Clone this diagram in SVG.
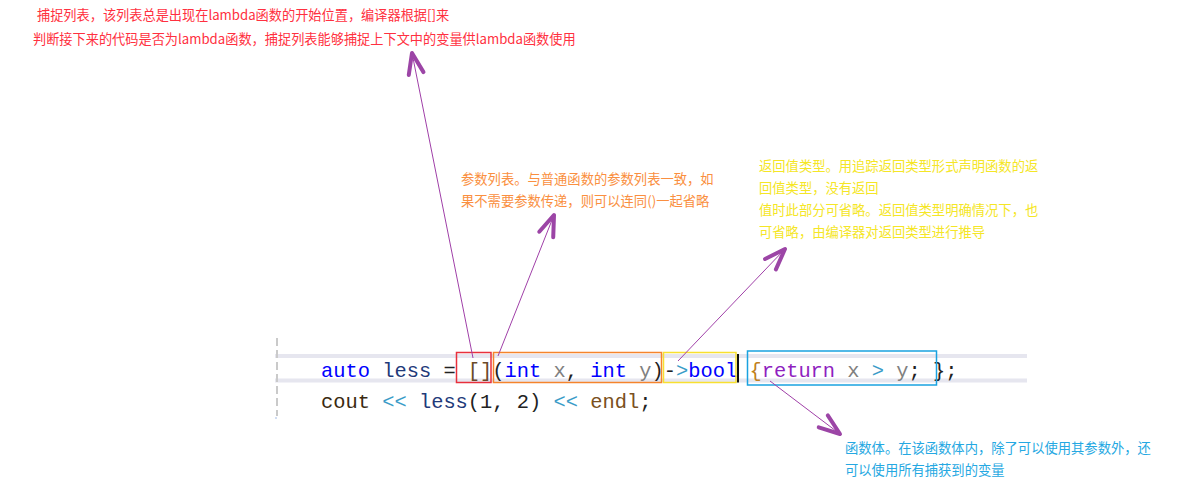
<svg xmlns="http://www.w3.org/2000/svg" width="1203" height="500" viewBox="0 0 1203 500">
<style>
.note{font-family:"Noto Sans CJK SC","Microsoft YaHei",sans-serif;font-size:13.3px}
.red{fill:#ff3040;font-size:13.2px}
.orange{fill:#fa8f40}
.yellow{fill:#f5e626}
.blue{fill:#25a8e2}
.code{font-family:"Liberation Mono",monospace;font-size:20.4px;white-space:pre}
.kw{fill:#0000ff}
.id{fill:#1f3a7a}
.pl{fill:#222222}
.var{fill:#808080}
.op{fill:#3a9cc8}
.br{fill:#6b4a2a}
.ret{fill:#8f1fbf}
.brace{fill:#c08020}
.endl{fill:#7a5020}
.conn{stroke:#a040a8;stroke-width:1;fill:none}
.box{fill:none;stroke-width:1.5}
</style>
<defs>
<marker id="head" markerUnits="userSpaceOnUse" markerWidth="40" markerHeight="40" refX="0" refY="0" orient="auto" viewBox="-30 -20 40 40" overflow="visible">
<path d="M -21 -7.5 L 0 0 L -21 7.5" fill="none" stroke="#9c45a6" stroke-width="4" stroke-linecap="round" stroke-linejoin="round"/>
</marker>
</defs>
<rect width="1203" height="500" fill="#ffffff"/>

<g id="code-block">
<rect x="275" y="354" width="752" height="4" fill="#e6e6ef"/>
<rect x="275" y="378.5" width="752" height="4" fill="#e6e6ef"/>
<line x1="277" y1="338" x2="277" y2="416" stroke="#cacaca" stroke-width="2" stroke-dasharray="8 4"/>
<rect x="275.5" y="417.5" width="1" height="1" fill="#4a7ad0"/>
<text class="code" x="321" y="377" xml:space="preserve"><tspan class="kw">auto</tspan><tspan class="id"> less </tspan><tspan class="pl">= </tspan><tspan class="br">[]</tspan><tspan class="pl">(</tspan><tspan class="kw">int</tspan><tspan class="var"> x</tspan><tspan class="pl">, </tspan><tspan class="kw">int</tspan><tspan class="var"> y</tspan><tspan class="pl">)-</tspan><tspan class="op">&gt;</tspan><tspan class="kw">bool</tspan><tspan class="pl"> </tspan><tspan class="brace">{</tspan><tspan class="ret">return</tspan><tspan class="var"> x </tspan><tspan class="op">&gt;</tspan><tspan class="var"> y</tspan><tspan class="pl">; };</tspan></text>
<text class="code" x="321" y="408" xml:space="preserve"><tspan fill="#3a2a10">cout</tspan><tspan class="op"> &lt;&lt; </tspan><tspan class="id">less</tspan><tspan class="pl">(1, 2)</tspan><tspan class="op"> &lt;&lt; </tspan><tspan class="endl">endl</tspan><tspan class="pl">;</tspan></text>
<rect x="737" y="354" width="2" height="28.5" fill="#111111"/>
<rect class="box" x="456.5" y="352.5" width="34.5" height="30" stroke="#e8303c"/>
<rect class="box" x="493.5" y="352.5" width="168" height="30" stroke="#f5842c"/>
<rect class="box" x="663.5" y="352.5" width="72.5" height="30" stroke="#f8e030"/>
<rect class="box" x="747.5" y="351" width="189" height="34" stroke="#1aa2e0"/>
</g>

<g id="capture-note">
<text class="note red" x="37" y="19.5">捕捉列表，该列表总是出现在lambda函数的开始位置，编译器根据[]来</text>
<text class="note red" x="33" y="44">判断接下来的代码是否为lambda函数，捕捉列表能够捕捉上下文中的变量供lambda函数使用</text>
</g>

<g id="params-note">
<text class="note orange" x="461" y="184">参数列表。与普通函数的参数列表一致，如</text>
<text class="note orange" x="461" y="206">果不需要参数传递，则可以连同()一起省略</text>
</g>

<g id="return-note">
<text class="note yellow" x="759" y="171">返回值类型。用追踪返回类型形式声明函数的返</text>
<text class="note yellow" x="759" y="193">回值类型，没有返回</text>
<text class="note yellow" x="759" y="215">值时此部分可省略。返回值类型明确情况下，也</text>
<text class="note yellow" x="759" y="237">可省略，由编译器对返回类型进行推导</text>
</g>

<g id="body-note">
<text class="note blue" x="845" y="453">函数体。在该函数体内，除了可以使用其参数外，还</text>
<text class="note blue" x="845" y="475">可以使用所有捕获到的变量</text>
</g>

<g id="connectors">
<line class="conn" x1="473" y1="358" x2="412" y2="53" marker-end="url(#head)"/>
<line class="conn" x1="498" y1="356" x2="554" y2="215" marker-end="url(#head)"/>
<line class="conn" x1="678" y1="361" x2="785" y2="249" marker-end="url(#head)"/>
<line class="conn" x1="770" y1="381" x2="840" y2="434" marker-end="url(#head)"/>
</g>
</svg>
